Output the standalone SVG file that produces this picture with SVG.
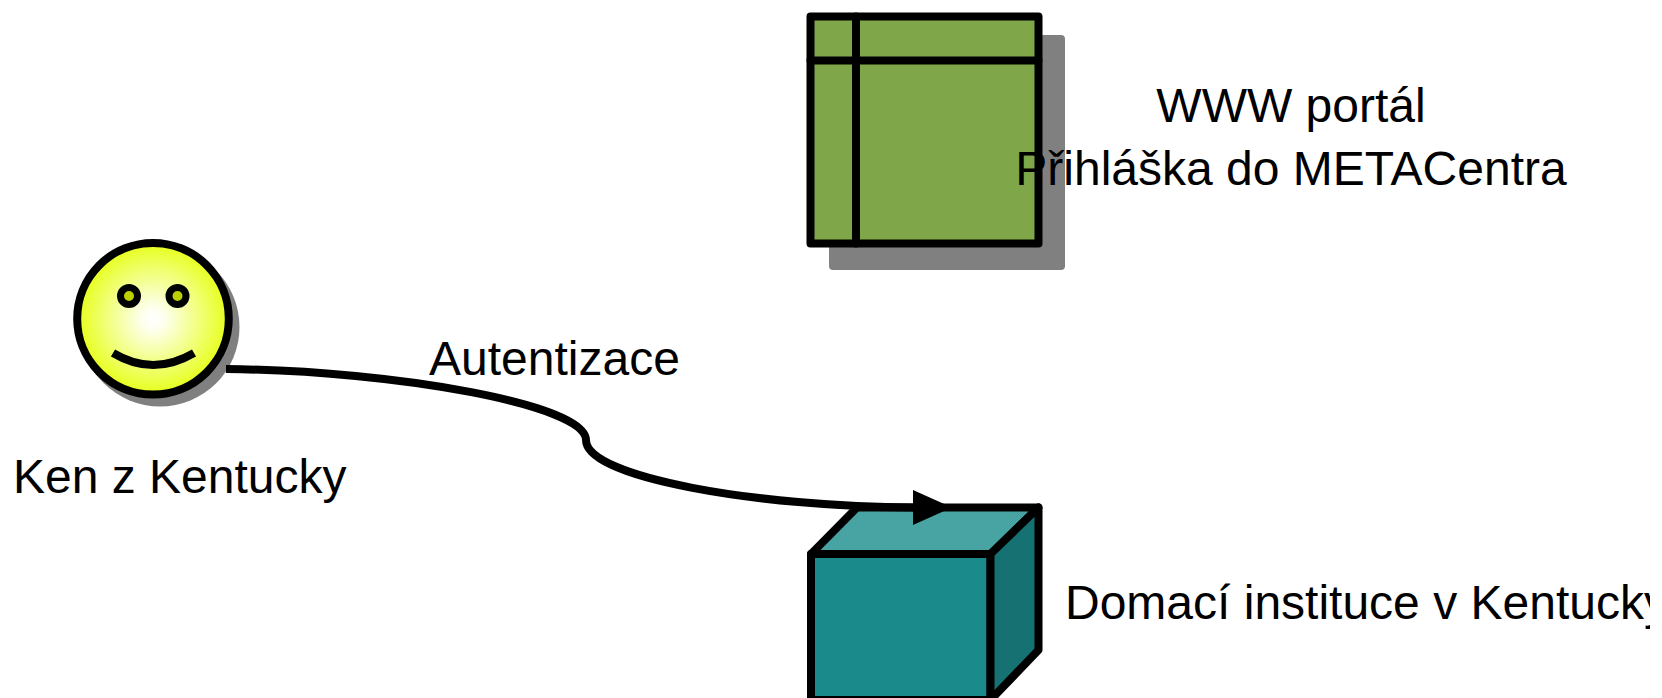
<svg xmlns="http://www.w3.org/2000/svg" width="1662" height="698" viewBox="0 0 1662 698">
<style>
.s{stroke:#000;stroke-width:8;stroke-linejoin:round;stroke-linecap:round}
.sh{fill:#808080;stroke:#808080;stroke-width:8;stroke-linejoin:round}
text{font-family:"Liberation Sans",Arial,sans-serif;font-size:48px;fill:#000}
</style>
<defs>
<radialGradient id="face" cx="0.5" cy="0.5" r="0.5"><stop offset="0" stop-color="#fff"/><stop offset="0.15" stop-color="#feffee"/><stop offset="1" stop-color="#e6ff19"/></radialGradient>
<clipPath id="page"><rect x="0" y="0" width="1650" height="698"/></clipPath>
</defs>
<rect width="1662" height="698" fill="#fff"/>
<g id="portal">
<rect class="sh" x="833" y="39" width="228" height="227"/>
<rect class="s" x="810.500" y="16.500" width="228" height="227" fill="#7fa648"/>
<path class="s" fill="none" d="M856 16.500V243.500M810.500 60.500H1038.500"/>
</g>
<g id="user">
<circle cx="160" cy="327" r="79.500" fill="#808080"/>
<circle cx="153" cy="318.700" r="75.800" fill="url(#face)" stroke="#000" stroke-width="8"/>
<circle cx="129" cy="296" r="8.500" fill="#bccf00" stroke="#000" stroke-width="7"/>
<circle cx="177.500" cy="296" r="8.500" fill="#bccf00" stroke="#000" stroke-width="7"/>
<path d="M113 353Q153 377 194 353" fill="none" stroke="#000" stroke-width="8"/>
</g>
<g id="institution">
<path class="s" fill="#1a8a8a" d="M811 554H990.500V700H811Z"/>
<path class="s" fill="#48a3a3" d="M811 554L857 507.500H1038.500L990.500 554Z"/>
<path class="s" fill="#167272" d="M990.500 554L1038.500 507.500V650L990.500 700Z"/>
</g>
<g id="connectors">
<path d="M226 369C400 371 586 405 586 440C586 478 760 507 915 507.500" fill="none" stroke="#000" stroke-width="8"/>
<path d="M913 490L952 507.500L913 525Z" fill="#000"/>
</g>
<g id="labels" clip-path="url(#page)">
<text x="1291" y="122" text-anchor="middle">WWW portál</text>
<text x="1291" y="185" text-anchor="middle">Přihláška do METACentra</text>
<text x="429" y="375">Autentizace</text>
<text x="13" y="493">Ken z Kentucky</text>
<text x="1065" y="619">Domací instituce v Kentucky</text>
</g>
</svg>
